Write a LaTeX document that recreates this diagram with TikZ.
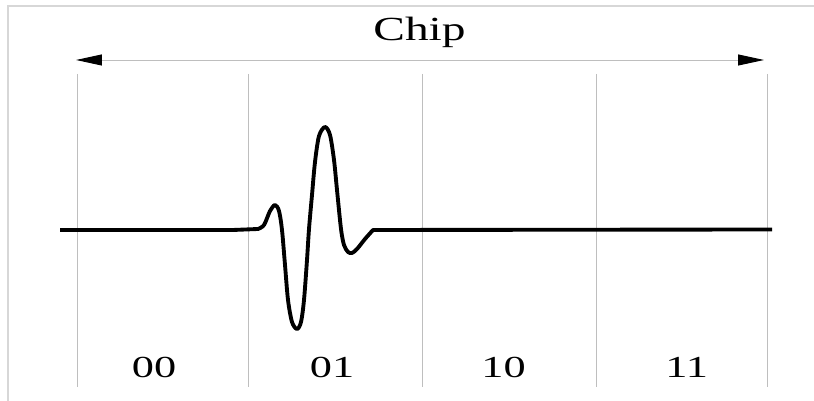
\documentclass[tikz,border=0pt]{standalone}
\usepackage{fontspec}
\setmainfont{Liberation Serif}
\usetikzlibrary{arrows.meta}
\definecolor{ramec}{RGB}{215,215,215}
\definecolor{mrizka}{RGB}{190,190,190}

\begin{document}
\begin{tikzpicture}[x=0.02cm, y=0.02cm,
        tenka/.style={draw=mrizka, line width=0.55pt},
        popis/.style={font=\fontsize{17.4}{20}\selectfont, xscale=1.45, inner sep=0pt, anchor=base},
        hrot/.tip={Triangle[length=0.52cm, width=0.22cm, color=black]},
        vlna/.style={line width=2.2pt, line join=round}]
        \useasboundingbox (0,0) rectangle (814,401);

        % ramecek
        \draw[ramec, line width=0.8pt] (8,0) -- (8,395) -- (814,395);

        % sipka
        \coordinate (zac) at (76,341);
        \coordinate (kon) at (764,341);
        \draw[tenka, hrot-hrot] (zac) -- (kon);
        \node[popis, font=\fontsize{19.2}{22}\selectfont, xscale=0.97] (chip) at (419.5,360.3) {Chip};

        % delici cary
        \foreach \x [count=\i] in {77,248,422,596,767} {
            \coordinate (o\i) at (\x,327);
            \coordinate (u\i) at (\x,14);
            \draw[tenka] (o\i) -- (u\i);
        }

        % pulz
        \coordinate (l0) at (60,171);
        \coordinate (l1) at (233,171);
        \coordinate (r1) at (772,171.5);
        \draw[vlna] (l0) -- (l1) -- plot[smooth] coordinates {(258,172) (264,176) (270,190) (275,196) (279,190)
            (282,171) (285,136) (288,101) (292,79) (297,72) (301,79) (304,101) (307,141)
            (309,172) (312,206) (315,239) (319,265) (325,274) (330,266) (334,241)
            (337,211) (341,172) (344,156) (348,149) (352,148) (357,152) (365,162) (373,171)}
            -- (r1);

        % popisky
        \foreach \x/\t in {154/00, 332/01, 503.5/10, 686.7/11}
            \node[popis] (b\t) at (\x,23.7) {\t};

    \end{tikzpicture}
\end{document}
